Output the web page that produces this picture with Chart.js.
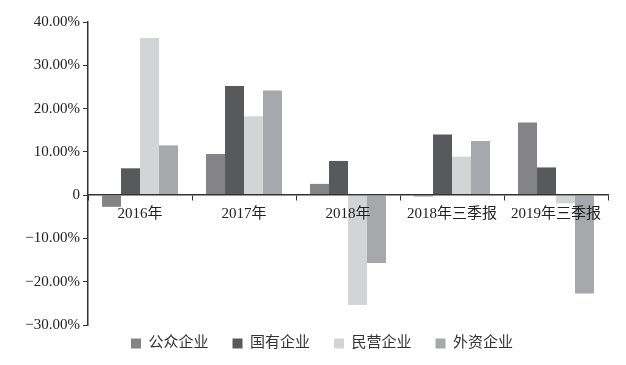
<!DOCTYPE html>
<html><head><meta charset="utf-8">
<script src="https://cdn.jsdelivr.net/npm/chart.js@4/dist/chart.umd.min.js"></script>
<style>html,body{margin:0;padding:0;background:#fff}#wrap{width:626px;height:365px}</style>
</head><body><div id="wrap"><canvas id="c" width="626" height="365"></canvas></div>
<script>
const categories = ['2016年','2017年','2018年','2018年三季报','2019年三季报'];
const seriesNames = ['公众企业','国有企业','民营企业','外资企业'];
const publicEnt = [-2.7, 9.5, 2.6, -0.3, 16.8];
const stateEnt = [6.2, 25.2, 7.9, 14.0, 6.4];
const privateEnt = [36.3, 18.2, -25.4, 8.9, -1.9];
const foreignEnt = [11.5, 24.2, -15.7, 12.5, -22.7];
const yTicks = [-30, -20, -10, 0, 10, 20, 30, 40];
const colors = ['#848487', '#58595b', '#d3d4d5', '#a7a8ab'];
const seriesData = [publicEnt, stateEnt, privateEnt, foreignEnt];

const serif = '"Liberation Serif", "Times New Roman", "Noto Sans CJK SC", serif';
const LEFT = 88;
const LEGEND_H = 40;

const legendTweak = {
  id: 'legendTweak',
  afterInit(chart) {
    const lg = chart.legend;
    const orig = lg.fit;
    lg.fit = function () { orig.call(this); this.height = LEGEND_H; };
  },
  afterLayout(chart) {
    const lg = chart.legend;
    lg.top -= 13; lg.bottom -= 13;
    lg.left += 18; lg.right += 18;
  }
};

new Chart(document.getElementById('c'), {
  type: 'bar',
  data: {
    labels: categories,
    datasets: seriesNames.map((n, i) => ({
      label: n, data: seriesData[i], backgroundColor: colors[i],
      borderWidth: 0, categoryPercentage: 0.73, barPercentage: 1
    }))
  },
  options: {
    responsive: false, animation: false,
    layout: { padding: { left: 0, right: 18, top: 22, bottom: 0 } },
    plugins: {
      tooltip: { enabled: false },
      legend: {
        position: 'bottom',
        labels: {
          boxWidth: 10, boxHeight: 10, padding: 24, color: '#333',
          font: { family: serif, size: 15 }
        }
      }
    },
    scales: {
      x: {
        position: { y: 0 },
        grid: { drawOnChartArea: false, drawTicks: true, tickLength: 5, offset: true, color: '#333', lineWidth: 1, z: 1 },
        border: { color: '#333', width: 1.5, z: 1 },
        ticks: { z: 1, color: '#222', padding: 5, font: { family: serif, size: 15 }, maxRotation: 0, autoSkip: false }
      },
      y: {
        min: -30, max: 40,
        afterBuildTicks: s => { s.ticks = yTicks.map(v => ({ value: v })); },
        afterFit: s => { s.width = LEFT; },
        grid: { drawOnChartArea: false, tickLength: 5, color: '#333' },
        border: { color: '#333', width: 1.5 },
        ticks: {
          color: '#222', padding: 3, font: { family: serif, size: 15 },
          callback: v => v === 0 ? '0' : (v < 0 ? '−' : '') + Math.abs(v).toFixed(2) + '%'
        }
      }
    }
  },
  plugins: [legendTweak]
});
</script></body></html>
